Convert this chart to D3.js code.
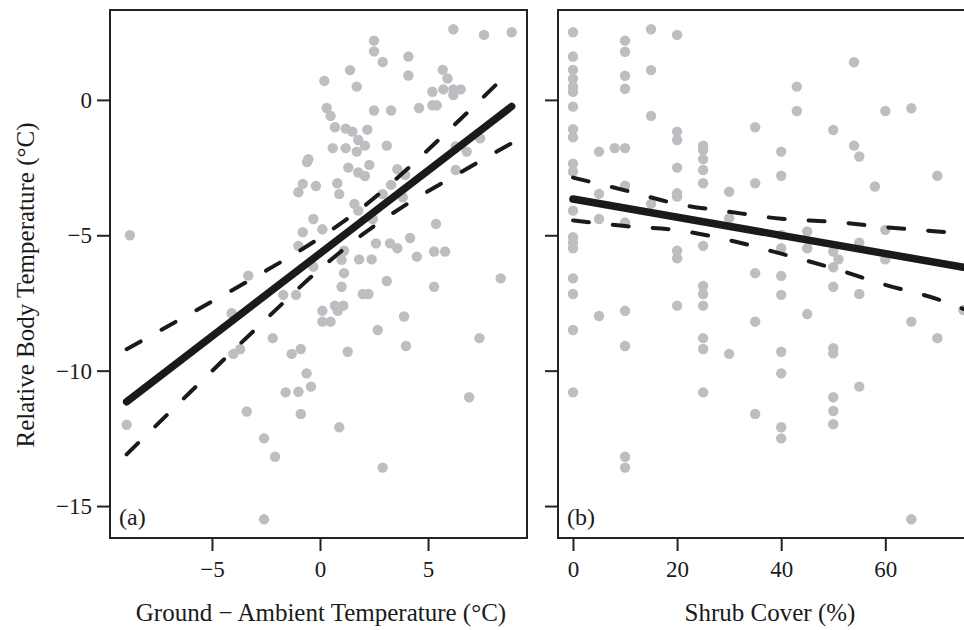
<!DOCTYPE html>
<html>
<head>
<meta charset="utf-8">
<script src="https://cdn.jsdelivr.net/npm/d3@7"></script>
<style>
  body { margin: 0; background: #fff; }
  text { font-family: "Liberation Serif", "Times New Roman", serif; fill: #1a1a1a; }
</style>
</head>
<body>
<div id="container"></div>
<script>
/* DATA */
// panel (a): ground - ambient temperature vs relative body temperature
const groundAmbient = [-8.8, -0.54, -0.6, -0.8, -1.0, -0.8, -1.0, -3.32, -1.7, -1.11,
  6.17, 7.59, 8.87, 2.5, 2.5, 2.9, 4.09, 4.09, 1.39, 0.2, 1.7, 5.68, 5.9, 5.2, 5.71, 6.17, 6.51, 6.17,
  5.2, 5.4, 4.58, 3.29, 2.5, 0.31, 0.49, 0.69, 1.19, 1.5, 2.19, 1.77, 2.08, 3.09, 0.59, 1.19, 1.7,
  7.41, 6.79, 6.28, 6.28, 1.31, 2.28, 1.77, 2.08, 3.58, 3.94, -0.19, 0.8, 0.89, 2.9, 3.29, 3.83,
  1.59, 1.77, 2.44, -0.31, 0.11, 2.59, 3.24, 3.58, 4.17, 5.37, 1.11, 1.0, 1.81, 2.39, 4.48, 5.28, 5.79,
  -0.31, 1.11, 3.09, 1.0, 5.28, 8.36, 1.98, 2.24, 0.11, 0.11, 0.49, 0.69, 0.82, 1.08, 3.89, 2.67,
  7.38, 3.98, 1.28, -0.89, -1.31, -0.62, -0.42, -1.0, -1.59, -0.89, 6.9, 0.89, 2.9,
  -4.09, -2.19, -4.01, -3.7, -3.39, -8.95, -2.59, -2.08, -2.59];
const bodyTempA = [-5.0, -2.19, -2.3, -3.1, -3.41, -4.89, -5.39, -6.49, -7.2, -7.2,
  2.61, 2.4, 2.5, 2.19, 1.79, 1.4, 1.6, 0.9, 1.1, 0.7, 0.49, 1.11, 0.79, 0.3, 0.39, 0.39, 0.39, 0.18,
  -0.2, -0.2, -0.3, -0.39, -0.39, -0.3, -0.59, -1.01, -1.06, -1.17, -1.1, -1.48, -1.69, -1.69, -1.78, -1.78, -1.91,
  -1.42, -1.91, -1.72, -2.59, -2.5, -2.4, -2.68, -2.81, -2.56, -2.77, -3.18, -3.08, -3.48, -3.48, -3.14, -3.6,
  -3.84, -4.09, -4.4, -4.4, -4.78, -5.3, -5.3, -5.48, -5.1, -4.58, -5.57, -5.91, -5.89, -5.89, -5.79, -5.6, -5.6,
  -6.16, -6.4, -6.69, -6.9, -6.9, -6.59, -7.17, -7.17, -7.79, -8.19, -8.19, -7.6, -7.79, -7.6, -8.0, -8.5,
  -8.8, -9.09, -9.3, -9.2, -9.38, -10.1, -10.59, -10.78, -10.8, -11.6, -10.98, -12.09, -13.58,
  -7.88, -8.8, -9.38, -9.21, -11.51, -12.0, -12.5, -13.18, -15.49];

// panel (b): shrub cover vs relative body temperature
const shrubCover = [0, 0, 0, 0, 0, 0, 0, 0, 0, 0, 0, 0, 0, 0, 0, 0, 0, 0, 0,
  5, 5, 5, 5, 8,
  10, 10, 10, 10, 10, 10, 10, 10, 10, 10, 10,
  15, 15, 15, 15,
  20, 20, 20, 20, 20, 20, 20, 20, 20,
  25, 25, 25, 25, 25, 25, 25, 25, 25, 25, 25, 25,
  30, 30, 30,
  35, 35, 35, 35, 35,
  40, 40, 40, 40, 40, 40, 40, 40, 40, 40,
  43, 43, 45, 45, 45,
  50, 50, 50, 50, 50, 50, 50, 50, 50, 51,
  54, 54, 55, 55, 55, 55, 58, 60, 60, 60,
  65, 65, 65, 70, 70, 75];
const bodyTempB = [2.5, 1.6, 1.11, 0.78, 0.49, 0.3, -0.25, -1.08, -1.38, -2.36, -2.65, -4.09, -5.07, -5.27, -5.48, -6.59, -7.17, -8.5, -10.8,
  -1.91, -3.47, -4.4, -7.98, -1.78,
  2.19, 1.78, 0.89, 0.41, -1.78, -3.17, -4.53, -7.79, -9.09, -13.18, -13.58,
  2.61, 1.1, -0.59, -3.84,
  2.4, -1.17, -1.48, -2.5, -3.45, -3.57, -5.57, -5.85, -7.6,
  -1.69, -1.85, -2.19, -2.59, -3.08, -5.39, -6.87, -7.17, -7.6, -8.8, -9.2, -10.8,
  -3.39, -4.37, -9.38,
  -1.01, -3.08, -6.4, -8.19, -11.6,
  -1.91, -2.8, -4.99, -5.48, -6.5, -7.2, -9.3, -10.1, -12.09, -12.5,
  0.49, -0.41, -4.86, -5.48, -7.91,
  -1.11, -5.6, -6.18, -6.9, -9.17, -9.36, -10.98, -11.49, -11.98, -5.89,
  1.39, -1.69, -2.09, -5.27, -7.17, -10.59, -3.2, -0.41, -4.8, -5.89,
  -0.31, -8.19, -15.49, -2.8, -8.8, -7.76];

// fitted lines and 95% bands
const fitAx = [-8.95, 8.87], fitAy = [-11.15, -0.24];
const bandAx = [-8.95, -6, -3, 0, 2, 4, 6, 8.87];
const bandAupper = [-9.21, -7.89, -6.54, -5.09, -3.95, -2.58, -1.09, 1.12];
const bandAlower = [-13.09, -10.79, -8.48, -6.25, -4.95, -3.86, -2.91, -1.6];

const fitBx = [0, 75], fitBy = [-3.66, -6.18];
const bandBx = [0, 10, 20, 30, 40, 50, 60, 70, 75];
const bandBupper = [-2.87, -3.34, -3.84, -4.13, -4.39, -4.5, -4.7, -4.86, -4.95];
const bandBlower = [-4.45, -4.66, -4.81, -5.18, -5.68, -6.22, -6.83, -7.36, -7.72];

const yTicks = [0, -5, -10, -15];
const xTicksA = [-5, 0, 5];
const xTicksB = [0, 20, 40, 60];

/* LAYOUT */
const width = 964, height = 630;
const plotTop = 10, plotBottom = 538;
const panelA = { left: 110, right: 527 };
const panelB = { left: 558, right: 979 };

const svg = d3.select("#container").append("svg")
  .attr("width", width).attr("height", height);

const yScale = d3.scaleLinear().domain([-16.18, 3.32]).range([plotBottom, plotTop]);
const xA = d3.scaleLinear().domain([-9.72, 9.58]).range([panelA.left, panelA.right]);
const xB = d3.scaleLinear().domain([-2.88, 78]).range([panelB.left, panelB.right]);

function drawPanel(p, xScale, xs, ys, fx, fy, bx, bu, bl, xTicks, showLabels, tag, title, titleX) {
  const g = svg.append("g");

  // points
  g.selectAll("circle").data(xs.map((x, i) => [x, ys[i]])).join("circle")
    .attr("cx", d => xScale(d[0])).attr("cy", d => yScale(d[1]))
    .attr("r", 5.2).attr("fill", "#bdbec2");

  // confidence bands
  const band = d3.line().x(d => xScale(d[0])).y(d => yScale(d[1])).curve(d3.curveMonotoneX);
  [bu, bl].forEach(arr => {
    g.append("path").datum(bx.map((x, i) => [x, arr[i]]))
      .attr("d", band).attr("fill", "none").attr("stroke", "#1a1a1a")
      .attr("stroke-width", 4).attr("stroke-dasharray", "16,24").attr("stroke-linecap", "round");
  });

  // fitted line
  g.append("path").datum(fx.map((x, i) => [x, fy[i]]))
    .attr("d", d3.line().x(d => xScale(d[0])).y(d => yScale(d[1])))
    .attr("fill", "none").attr("stroke", "#1a1a1a")
    .attr("stroke-width", 7.5).attr("stroke-linecap", "round");

  // frame
  svg.append("rect").attr("x", p.left).attr("y", plotTop)
    .attr("width", p.right - p.left).attr("height", plotBottom - plotTop)
    .attr("fill", "none").attr("stroke", "#222").attr("stroke-width", 2);

  // axes
  const xAxis = svg.append("g").attr("transform", `translate(0,${plotBottom})`)
    .call(d3.axisBottom(xScale).tickValues(xTicks).tickSize(13).tickSizeOuter(0).tickPadding(10));
  const yAxis = svg.append("g").attr("transform", `translate(${p.left},0)`)
    .call(d3.axisLeft(yScale).tickValues(yTicks).tickSize(13).tickSizeOuter(0).tickPadding(5));
  [xAxis, yAxis].forEach(a => {
    a.select(".domain").remove();
    a.selectAll(".tick line").attr("stroke", "#222").attr("stroke-width", 2);
    a.selectAll(".tick text").attr("font-family", "Liberation Serif").attr("font-size", 23).attr("fill", "#1a1a1a");
  });
  if (!showLabels) yAxis.selectAll(".tick text").remove();

  svg.append("text").attr("x", p.left + 9).attr("y", plotBottom - 13)
    .attr("font-size", 24).text(tag);

  svg.append("text").attr("x", titleX).attr("y", 621)
    .attr("text-anchor", "middle").attr("font-size", 25).text(title);
}

drawPanel(panelA, xA, groundAmbient, bodyTempA, fitAx, fitAy, bandAx, bandAupper, bandAlower,
  xTicksA, true, "(a)", "Ground \u2212 Ambient Temperature (\u00B0C)", 321);
drawPanel(panelB, xB, shrubCover, bodyTempB, fitBx, fitBy, bandBx, bandBupper, bandBlower,
  xTicksB, false, "(b)", "Shrub Cover (%)", 770);

// y axis title
svg.append("text").attr("transform", "translate(34,285) rotate(-90)")
  .attr("text-anchor", "middle").attr("font-size", 25).text("Relative Body Temperature (\u00B0C)");
</script>
</body>
</html>
